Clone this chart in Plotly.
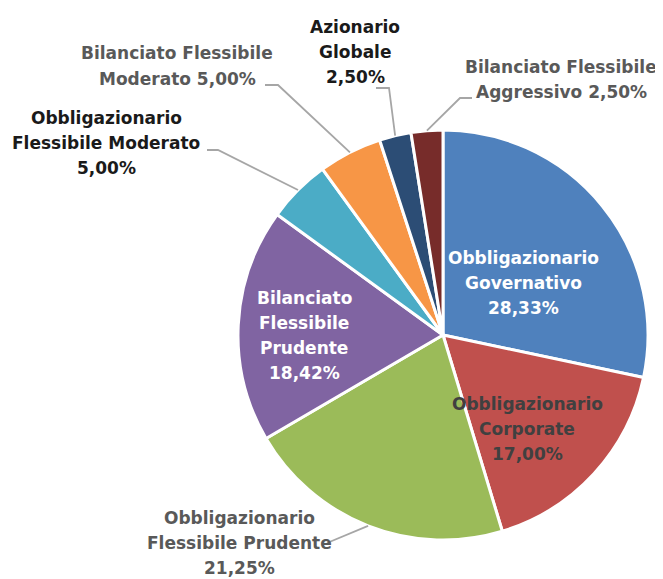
import math
import plotly.graph_objects as go

# ---- data ----
labels = [
    "Obbligazionario Governativo",
    "Obbligazionario Corporate",
    "Obbligazionario Flessibile Prudente",
    "Bilanciato Flessibile Prudente",
    "Obbligazionario Flessibile Moderato",
    "Bilanciato Flessibile Moderato",
    "Azionario Globale",
    "Bilanciato Flessibile Aggressivo",
]
values = [28.33, 17.00, 21.25, 18.42, 5.00, 5.00, 2.50, 2.50]
label_lines = [
    ["Obbligazionario", "Governativo"],
    ["Obbligazionario", "Corporate"],
    ["Obbligazionario", "Flessibile Prudente"],
    ["Bilanciato", "Flessibile", "Prudente"],
    ["Obbligazionario", "Flessibile Moderato"],
    ["Bilanciato Flessibile", "Moderato"],
    ["Azionario", "Globale"],
    ["Bilanciato Flessibile", "Aggressivo"],
]
pct_inline = [False, False, False, False, False, True, False, True]

# ---- styles / layout ----
colors = ["#4F81BD", "#C0504D", "#9BBB59", "#8064A2",
          "#4BACC6", "#F79646", "#2C4D75", "#772C2A"]
text_colors = ["#FFFFFF", "#404040", "#595959", "#FFFFFF",
               "#1A1A1A", "#595959", "#1A1A1A", "#595959"]
W, H = 663, 579
OFF = 8  # page body margin offset in the screenshot
CX, CY, R = 443, 335, 205
LINE_H = 25
# label centres (screen pixels)
label_pos = [(523, 283), (527, 429), (240, 543), (304, 335.5),
             (106, 143), (177, 66), (355, 52), (561, 79)]
# leader line: elbow point, end point (screen pixels); None = inside label
leaders = [None, None,
           [(327, 543), (327, 543)],
           None,
           [(218, 150), (207, 150)],
           [(278, 85), (265, 85)],
           [(389, 88), (376, 88)],
           [(460, 98), (472, 98)]]

FONT = "DejaVu Sans"
FS = 17


def fmt(v):
    return f"{v:.2f}".replace(".", ",") + "%"


def px(x, y):
    return (x - OFF) / W, 1 - (y - OFF) / H


x0, y0 = px(CX - R, CY + R)
x1, y1 = px(CX + R, CY - R)
fig = go.Figure(go.Pie(
    labels=labels, values=values, sort=False, direction="clockwise",
    rotation=0, textinfo="none", hoverinfo="label+percent",
    marker=dict(colors=colors, line=dict(color="white", width=3)),
    domain=dict(x=[x0, x1], y=[y0, y1]),
    showlegend=False,
))

annotations = []
shapes = []
total = sum(values)
cum = 0
for i, v in enumerate(values):
    mid = (cum + v / 2) / total * 2 * math.pi
    cum += v
    lines = list(label_lines[i])
    if pct_inline[i]:
        lines[-1] = lines[-1] + " " + fmt(v)
    else:
        lines.append(fmt(v))
    lx, ly = label_pos[i]
    n = len(lines)
    for k, t in enumerate(lines):
        x, y = px(lx, ly + (k - (n - 1) / 2) * LINE_H)
        annotations.append(dict(
            x=x, y=y, xref="paper", yref="paper", text=t,
            showarrow=False, xanchor="center", yanchor="middle", align="center",
            font=dict(family=FONT, size=FS, color=text_colors[i], weight="bold"),
        ))
    if leaders[i] is not None:
        sx = CX + R * math.sin(mid)
        sy = CY - R * math.cos(mid)
        (ex, ey), (fx, fy) = leaders[i]
        pts = [px(sx, sy), px(ex, ey), px(fx, fy)]
        path = "M {} {} L {} {} L {} {}".format(*[c for p in pts for c in p])
        shapes.append(dict(type="path", path=path, xref="paper", yref="paper",
                           line=dict(color="#A6A6A6", width=1.8), layer="above"))

fig.update_layout(
    width=W, height=H, margin=dict(l=0, r=0, t=0, b=0),
    paper_bgcolor="white", plot_bgcolor="white",
    annotations=annotations, shapes=shapes,
)
fig.write_html("out.html")
